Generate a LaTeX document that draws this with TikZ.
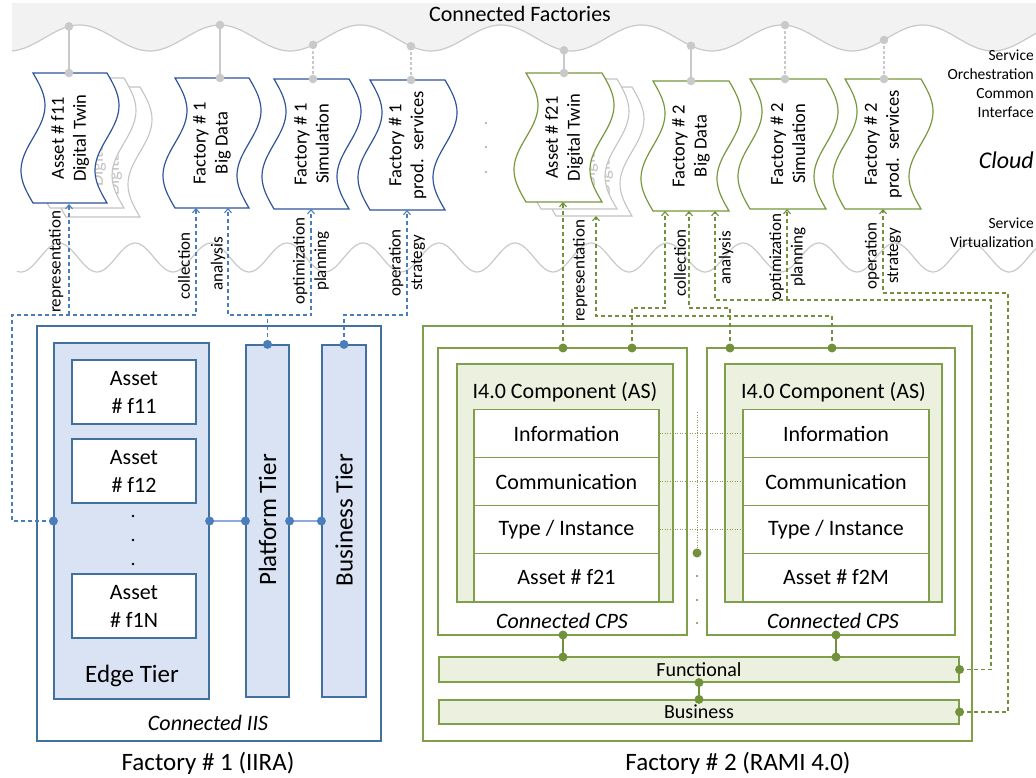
\documentclass[tikz,border=0pt]{standalone}
\usepackage{fontspec}
\setmainfont{Carlito}
\usetikzlibrary{arrows.meta}

\definecolor{bstroke}{HTML}{41719C}
\definecolor{bdoc}{HTML}{2F5597}
\definecolor{bfill}{HTML}{DAE3F3}
\definecolor{bdot}{HTML}{4A7EBB}
\definecolor{blink}{HTML}{8FAADC}
\definecolor{gstroke}{HTML}{7F9F4A}
\definecolor{gdoc}{HTML}{77983C}
\definecolor{gfill}{HTML}{EBF1DE}
\definecolor{gdot}{HTML}{71913B}
\definecolor{cloudfill}{HTML}{F2F2F2}
\definecolor{cloudline}{HTML}{C9C9C9}
\definecolor{ghost}{HTML}{C4C4C4}

\newcommand\fs[2]{\fontsize{#1}{#2}\selectfont}
% document shape with wavy left and right sides: style, x0, top, width, height
\newcommand\wavedoc[5]{%
  \draw[#1] (#2,#3) -- ({#2+#4},#3)
    -- plot[domain=0:1, samples=41, variable=\dv] ({#2+#4+12*sin(360*\dv)},{#3+#5*\dv})
    -- (#2,{#3+#5})
    -- plot[domain=1:0, samples=41, variable=\dv] ({#2+12*sin(360*\dv)},{#3+#5*\dv})
    -- cycle;}
\newcommand\bdotat[1]{\fill[bdot] (#1) circle[radius=4.5pt];}
\newcommand\gdotat[1]{\fill[gdot] (#1) circle[radius=4.5pt];}
\newcommand\cdotat[1]{\fill[cloudline] (#1) circle[radius=4.3pt];}

\tikzset{
  every node/.style={inner sep=0pt},
  rbox/.style={draw, rectangle, line width=1.2pt, inner sep=0pt},
  outblue/.style={rbox, draw=bstroke},
  tierblue/.style={rbox, draw=bstroke, fill=bfill},
  assetblue/.style={rbox, draw=bstroke, fill=white, font=\fs{22}{28}, align=center},
  outgreen/.style={rbox, draw=gstroke},
  cpsgreen/.style={rbox, draw=gstroke, fill=white},
  compgreen/.style={rbox, draw=gstroke, fill=gfill},
  rowgreen/.style={rbox, draw=gstroke, fill=white, line width=1.4pt, font=\fs{22}{26},
    minimum height=48pt},
  bargreen/.style={rbox, draw=gstroke, fill=gfill, font=\fs{20}{24}, minimum width=520pt},
  bluedoc/.style={draw=bdoc, fill=white, line width=1.2pt},
  greendoc/.style={draw=gdoc, fill=white, line width=1.2pt},
  ghostdoc/.style={draw=ghost, fill=white, line width=1.1pt},
  doctext/.style={font=\fs{18.5}{22}, align=center, rotate=90},
  ghosttext/.style={doctext, text=ghost},
  vlabel/.style={font=\fs{17}{21.5}, align=center, rotate=90},
  sidelabel/.style={font=\fs{15.5}{19}, align=right, anchor=east},
  bdash/.style={draw=bdot, line width=1.1pt, dash pattern=on 4pt off 3pt},
  gdash/.style={draw=gdot, line width=1.1pt, dash pattern=on 4pt off 3pt},
  uptip/.style={-{Straight Barb[length=4pt,width=7pt]}},
  cloudlink/.style={draw=cloudline, line width=1.3pt},
  cloudlinkdash/.style={cloudlink, dash pattern=on 3pt off 2pt},
  rowdots/.style={draw=gstroke, line width=1pt, dash pattern=on 1pt off 1.5pt},
}

\begin{document}
\begin{tikzpicture}[x=1pt, y=-1pt,
  declare function={yT(\x)=38-13*cos(2.5623*(\x-220)); yB(\x)=257.5+14.5*cos(4.7368*(\x-97));}]

\fill[white] (0,0) rectangle (1036,778);
\useasboundingbox (0,0) rectangle (1036,778);

% ---------- cloud band ----------
\fill[cloudfill] (12,3) -- (1036,3)
  -- plot[domain=1036:12, samples=300, variable=\x] (\x,{yT(\x)}) -- cycle;
\draw[cloudline, line width=1.2pt] plot[domain=12:1036, samples=300, variable=\x] (\x,{yT(\x)});
\node[font=\fs{22}{26}] (title) at (520,14) {Connected Factories};

% service virtualization wave
\draw[cloudline, line width=1.2pt] plot[domain=17:1036, samples=400, variable=\x] (\x,{yB(\x)});

% side labels
\node[sidelabel] (orch) at (1034,83.5) {Service\\Orchestration\\Common\\Interface};
\node[sidelabel, font=\fs{24}{28}\itshape] (cloud) at (1034,160) {Cloud};
\node[sidelabel] (virt) at (1034,232.5) {Service\\Virtualization};

% ---------- cloud services ----------
\foreach \n/\xx in {1/69,2/220,3/313,4/411,5/564,6/691,7/785,8/884}
  \coordinate (w\n) at (\xx,{yT(\xx)});
\coordinate (t1) at (69,73);  \coordinate (t2) at (220,78);
\coordinate (t3) at (313,79); \coordinate (t4) at (411,80);
\coordinate (t5) at (564,73); \coordinate (t6) at (691,81);
\coordinate (t7) at (785,79); \coordinate (t8) at (884,79);

\draw[cloudlink] (t1) -- (w1);
\draw[cloudlink] (t2) -- (w2);
\draw[cloudlinkdash] (t3) -- (w3);
\draw[cloudlinkdash] (t4) -- (w4);
\draw[cloudlink] (t5) -- (w5);
\draw[cloudlink] (t6) -- (w6);
\draw[cloudlinkdash] (t7) -- (w7);
\draw[cloudlinkdash] (t8) -- (w8);

% factory 1 twins (stacked copies behind)
\wavedoc{ghostdoc}{66}{87}{74}{130}
\node[ghosttext] (g12t) at (103,152) {Asset \# f1N\\Digital Twin};
\wavedoc{ghostdoc}{50}{78}{74}{130}
\node[ghosttext] (g11t) at (87,143) {Asset \# f12\\Digital Twin};
\wavedoc{bluedoc}{33}{73}{74}{130}
\node[doctext] (d1t) at (70,138) {Asset \# f11\\Digital Twin};

\wavedoc{bluedoc}{175}{78}{74}{130}
\node[doctext] (d2t) at (212,143) {Factory \# 1\\Big Data};
\wavedoc{bluedoc}{274}{79}{75}{130}
\node[doctext] (d3t) at (311.5,144) {Factory \# 1\\Simulation};
\wavedoc{bluedoc}{370}{80}{75}{130}
\node[doctext] (d4t) at (407.5,145) {Factory \# 1\\prod.\ \ services};

% factory 2 twins
\wavedoc{ghostdoc}{556}{87}{76}{129}
\node[ghosttext] (g22t) at (594,151.5) {Asset \# f2M\\Digital Twin};
\wavedoc{ghostdoc}{541}{79}{76}{130}
\node[ghosttext] (g21t) at (579,144) {Asset \# f22\\Digital Twin};
\wavedoc{greendoc}{526}{73}{76}{129}
\node[doctext] (d5t) at (564,137.5) {Asset \# f21\\Digital Twin};

\wavedoc{greendoc}{653}{81}{76}{130}
\node[doctext] (d6t) at (691,146) {Factory \# 2\\Big Data};
\wavedoc{greendoc}{750}{79}{76}{130}
\node[doctext] (d7t) at (788,144) {Factory \# 2\\Simulation};
\wavedoc{greendoc}{845}{79}{76}{130}
\node[doctext] (d8t) at (883,144) {Factory \# 2\\prod.\ \ services};

\foreach \n in {1,...,8} {\cdotat{w\n} \cdotat{t\n}}

% more factories in between
\foreach \yy in {123,147,172} \fill[cloudline!80!black] (486,\yy) circle[radius=1.2pt];

% ---------- Factory 1 (IIRA) ----------
\node[outblue, minimum width=344pt, minimum height=415pt] (iis) at (209,533.5) {};
\node[tierblue, minimum width=155pt, minimum height=356pt] (edge) at (131.5,521) {};
\node[assetblue, minimum width=124pt, minimum height=64pt] (a11) at (134,392) {Asset\\\# f11};
\node[assetblue, minimum width=124pt, minimum height=64pt] (a12) at (134,471) {Asset\\\# f12};
\node[assetblue, minimum width=124pt, minimum height=64pt] (a1n) at (134,606) {Asset\\\# f1N};
\foreach \yy in {516,540,564} \fill (133,\yy) circle[radius=1.3pt];
\node[font=\fs{25}{30}] (edget) at (132,676) {Edge Tier};

\node[tierblue, minimum width=43pt, minimum height=352pt] (plat) at (267.5,521) {};
\node[font=\fs{25}{30}, rotate=90] (platt) at (267.5,520) {Platform Tier};
\node[tierblue, minimum width=44pt, minimum height=352pt] (bus) at (344,521) {};
\node[font=\fs{25}{30}, rotate=90] (bust) at (344,520) {Business Tier};

\node[font=\fs{22}{26}\itshape] (iist) at (208,723) {Connected IIS};
\node[font=\fs{25}{30}] (f1t) at (208,763) {Factory \# 1 (IIRA)};

\draw[blink, line width=1.5pt] (edge.east) -- (plat.west);
\draw[blink, line width=1.5pt] (plat.east) -- (bus.west);

% factory 1 service links
\coordinate (d1b) at (69,204);
\coordinate (d2bl) at (196,208);
\coordinate (d2br) at (228,208);
\coordinate (d3b) at (311,209);
\coordinate (d4b) at (407,210);
\coordinate (jl) at (12,315);
\coordinate (jrep) at (69,315);
\coordinate (jpl) at (267.5,315);

\draw[bdash, uptip] (edge.west) -| (jl) -| (d2bl);
\draw[bdash, uptip] (jrep) -- (d1b);
\draw[bdash, uptip] (plat.north) -- (jpl) -| (d2br);
\draw[bdash, uptip] (jpl) -| (d3b);
\draw[bdash, uptip] (bus.north) -- (bus.north |- jpl) -| (d4b);

\node[vlabel] (l1a) at (56,262) {representation};
\node[vlabel] (l1b) at (184,266) {collection};
\node[vlabel] (l1c) at (218,264) {analysis};
\node[vlabel] (l1d) at (311,261) {optimization\\planning};
\node[vlabel] (l1e) at (407,263) {operation\\strategy};

\foreach \p in {edge.west, edge.east, plat.west, plat.east, bus.west, plat.north, bus.north}
  {\bdotat{\p}}

% ---------- Factory 2 (RAMI 4.0) ----------
\node[outgreen, minimum width=549pt, minimum height=415pt] (rami) at (697.5,533.5) {};
\node[cpsgreen, minimum width=249pt, minimum height=287pt] (cps1) at (562.5,491.5) {};
\node[cpsgreen, minimum width=248pt, minimum height=287pt] (cps2) at (831,491.5) {};
\node[compgreen, minimum width=216pt, minimum height=238pt] (ia) at (565,483) {};
\node[compgreen, minimum width=217pt, minimum height=238pt] (ib) at (833.5,483) {};
\node[font=\fs{22}{26}] (iat) at (565,392) {I4.0 Component (AS)};
\node[font=\fs{22}{26}] (ibt) at (833.5,392) {I4.0 Component (AS)};

\node[rowgreen, minimum width=185pt] (ra1) at (566.5,433.5) {Information};
\node[rowgreen, minimum width=185pt] (ra2) at (566.5,481.5) {Communication};
\node[rowgreen, minimum width=185pt] (ra3) at (566.5,529.5) {Type / Instance};
\node[rowgreen, minimum width=185pt] (ra4) at (566.5,577.5) {Asset \# f21};
\node[rowgreen, minimum width=186pt] (rb1) at (836,433.5) {Information};
\node[rowgreen, minimum width=186pt] (rb2) at (836,481.5) {Communication};
\node[rowgreen, minimum width=186pt] (rb3) at (836,529.5) {Type / Instance};
\node[rowgreen, minimum width=186pt] (rb4) at (836,577.5) {Asset \# f2M};

\node[font=\fs{22}{26}\itshape] (cps1t) at (562,621) {Connected CPS};
\node[font=\fs{22}{26}\itshape] (cps2t) at (833,621) {Connected CPS};

\node[bargreen, minimum height=25pt] (func) at (699,669.5) {Functional};
\node[bargreen, minimum height=24pt] (busi) at (699,712) {Business};
\node[font=\fs{25}{30}] (f2t) at (738,763) {Factory \# 2 (RAMI 4.0)};

% peer links between the components
\draw[rowdots] (ra1.east) -- (rb1.west);
\draw[rowdots] (ra2.east) -- (rb2.west);
\draw[rowdots] (ra3.east) -- (rb3.west);
\coordinate (vtop) at (697,412);
\coordinate (vbot) at (697,553);
\draw[rowdots] (vtop) -- (vbot);
\foreach \yy in {576,600,623} \fill[gdot] (697,\yy) circle[radius=1.2pt];

% internal links
\coordinate (c1d) at (563,635); \coordinate (f1u) at (563,657);
\coordinate (c2d) at (836,635); \coordinate (f2u) at (836,657);
\draw[gdot, line width=1.5pt] (c1d) -- (f1u);
\draw[gdot, line width=1.5pt] (c2d) -- (f2u);
\draw[gdot, line width=1.5pt] (func.south) -- (busi.north);

% factory 2 service links
\coordinate (c1a) at (563,348); \coordinate (c1b) at (632,348);
\coordinate (c2a) at (730,348); \coordinate (c2b) at (832,348);
\coordinate (d5b) at (563,202);
\coordinate (g5b) at (596,216);
\coordinate (d6bl) at (665,211);
\coordinate (d6bm) at (689,211);
\coordinate (d6br) at (715,211);
\coordinate (d7b) at (787,209);
\coordinate (d8b) at (883,209);
\coordinate (jr2) at (832,316);
\coordinate (jc1) at (632,308);
\coordinate (jc2) at (730,308);
\coordinate (jan) at (991,300);
\coordinate (jop) at (787,300);
\coordinate (jst) at (1008,293);

\draw[gdash, uptip] (c1a) -- (d5b);
\draw[gdash, uptip] (c2b) -- (jr2) -| (g5b);
\draw[gdash, uptip] (c1b) -- (jc1) -| (d6bl);
\draw[gdash, uptip] (c2a) -- (jc2) -| (d6bm);
\draw[gdash, uptip] (func.east) -| (jan) -| (d6br);
\draw[gdash, uptip] (jop) -- (d7b);
\draw[gdash, uptip] (busi.east) -| (jst) -| (d8b);

\node[vlabel] (l2a) at (580,271) {representation};
\node[vlabel] (l2b) at (680,263) {collection};
\node[vlabel] (l2c) at (726,258) {analysis};
\node[vlabel] (l2d) at (787.5,257) {optimization\\planning};
\node[vlabel] (l2e) at (883,256) {operation\\strategy};

\foreach \p in {c1a, c1b, c2a, c2b, c1d, f1u, c2d, f2u, func.south, busi.north,
  func.east, busi.east, vbot}
  {\gdotat{\p}}

\end{tikzpicture}
\end{document}
